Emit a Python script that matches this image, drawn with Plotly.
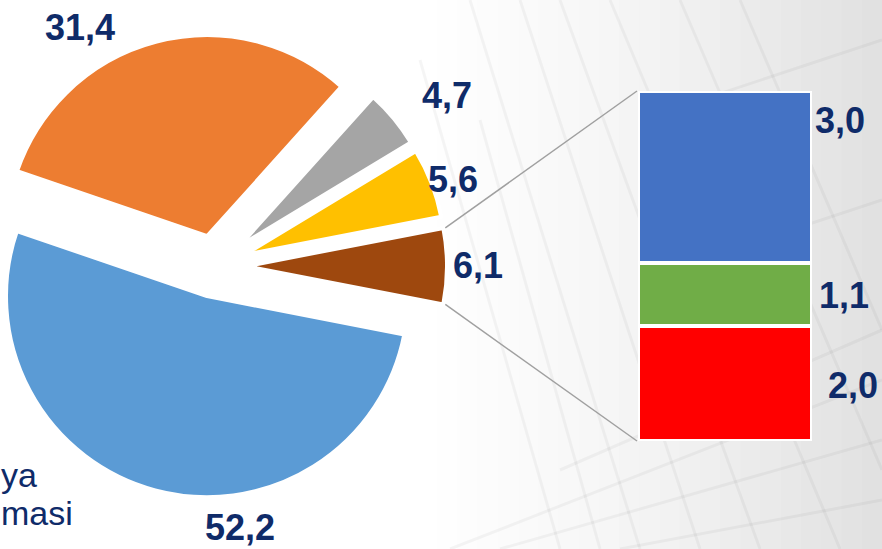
import math
import plotly.graph_objects as go

# ---------------- data ----------------
# pie slices, listed clockwise starting at the upper edge of the exploded "other" slice
pie_labels = ["Lainnya (rincian)", "Kelompok A", "Kelompok B", "Kelompok C", "Kelompok D"]
pie_values = [6.1, 52.2, 31.4, 4.7, 5.6]
pie_colors = ["#9E480E", "#5B9BD5", "#ED7D31", "#A5A5A5", "#FFC000"]

# breakdown bar of the "other" slice, bottom to top
bar_labels = ["Rincian 1", "Rincian 2", "Rincian 3"]
bar_values = [2.0, 1.1, 3.0]
bar_colors = ["#FF0000", "#70AD47", "#4472C4"]

# partial legend text visible at the left edge
legend_tail = ["ya", "masi"]

# ---------------- layout / style ----------------
W, H = 882, 549
CX, CY = 215.0, 266.2      # pie centre (px from top-left)
R = 201.0                  # pie radius (px)
PULL = 31.0                # explosion distance (px)
NAVY = "#0F2B69"
LBL_FONT = dict(family="Arial, Liberation Sans, sans-serif", size=36, color=NAVY, weight=700)

def fmt(v):
    return f"{v:.1f}".replace(".", ",")

def px_x(x):
    return x / W

def px_y(y):
    return (H - y) / H

total = sum(pie_values)
deg_per = 360.0 / total
rotation = 90.0 - pie_values[0] * deg_per / 2.0   # centre the "other" slice at 3 o'clock

fig = go.Figure()

# background: soft gradient towards the right
n_strips = 24
for i in range(n_strips):
    t = i / (n_strips - 1)
    g = int(round(255 - 30 * t ** 1.4))
    x0 = 0.45 + 0.55 * i / n_strips
    x1 = 0.45 + 0.55 * (i + 1) / n_strips
    fig.add_shape(type="rect", xref="paper", yref="paper", x0=x0, x1=x1 + 0.002,
                  y0=0, y1=1, line_width=0, fillcolor=f"rgb({g},{g},{g})", layer="below")

# faint architectural line texture in the background
texture = [
    (470, 0, 640, 549), (520, 0, 700, 549), (560, 0, 760, 549), (610, 0, 840, 549),
    (680, 0, 882, 470), (740, 0, 882, 330), (420, 60, 560, 549), (480, 120, 600, 549),
    (450, 549, 882, 380), (500, 549, 882, 440), (560, 470, 882, 330), (620, 549, 882, 500),
    (640, 120, 882, 40), (700, 260, 882, 200),
]
for x0, y0, x1, y1 in texture:
    fig.add_shape(type="line", xref="paper", yref="paper",
                  x0=px_x(x0), y0=px_y(y0), x1=px_x(x1), y1=px_y(y1),
                  line=dict(color="rgba(0,0,0,0.04)", width=3), layer="below")

# pie: one trace per slice so each slice can be exploded by the same distance
apexes = []
cum = 0.0
for k, v in enumerate(pie_values):
    start = rotation + cum * deg_per
    mid = start + v * deg_per / 2.0
    cum += v
    a = math.radians(mid)
    ax = CX + PULL * math.sin(a)
    ay = CY - PULL * math.cos(a)
    apexes.append((ax, ay, start, start + v * deg_per))
    colors = [pie_colors[i] if i == k else "rgba(0,0,0,0)" for i in range(len(pie_values))]
    widths = [4 if i == k else 0 for i in range(len(pie_values))]
    fig.add_trace(go.Pie(
        labels=pie_labels, values=pie_values, sort=False,
        direction="clockwise", rotation=rotation,
        marker=dict(colors=colors, line=dict(color="white", width=widths)),
        textinfo="none", hoverinfo="skip", showlegend=False,
        domain=dict(x=[px_x(ax - R), px_x(ax + R)], y=[px_y(ay + R), px_y(ay - R)]),
    ))

# stacked breakdown bar
BAR_X0, BAR_X1 = 638, 812
BAR_TOP, BAR_BOT = 91, 441
for lab, v, c in zip(bar_labels, bar_values, bar_colors):
    fig.add_trace(go.Bar(
        x=[0], y=[v], name=lab, marker=dict(color=c, line=dict(color="white", width=4)),
        hoverinfo="skip", showlegend=False,
    ))

# connector lines from the "other" slice to the bar
oax, oay, a0, a1 = apexes[0]
p_top = (oax + R * math.sin(math.radians(a0)), oay - R * math.cos(math.radians(a0)))
p_bot = (oax + R * math.sin(math.radians(a1)), oay - R * math.cos(math.radians(a1)))
for (sx, sy), ey in ((p_top, BAR_TOP), (p_bot, BAR_BOT)):
    fig.add_shape(type="line", xref="paper", yref="paper",
                  x0=px_x(sx + 2), y0=px_y(sy), x1=px_x(BAR_X0 - 1), y1=px_y(ey),
                  line=dict(color="#A0A0A0", width=1.5))

# value labels
pie_label_pos = [(478, 266), (240, 527), (80, 28), (447, 96), (453, 179)]
for v, (lx, ly) in zip(pie_values, pie_label_pos):
    fig.add_annotation(x=px_x(lx), y=px_y(ly), xref="paper", yref="paper",
                       text=fmt(v), showarrow=False, font=LBL_FONT,
                       xanchor="center", yanchor="middle", borderpad=0)
bar_label_pos = [(853, 385), (844, 295), (840, 120)]
for v, (lx, ly) in zip(bar_values, bar_label_pos):
    fig.add_annotation(x=px_x(lx), y=px_y(ly), xref="paper", yref="paper",
                       text=fmt(v), showarrow=False, font=LBL_FONT,
                       xanchor="center", yanchor="middle", borderpad=0)

# legend text fragments at the left edge
for txt, (lx, cy) in zip(legend_tail, [(0, 475), (0, 513)]):
    fig.add_annotation(x=px_x(lx), y=px_y(cy), xref="paper", yref="paper",
                       text=txt, showarrow=False,
                       font=dict(family="Arial, Liberation Sans, sans-serif", size=34, color=NAVY),
                       xanchor="left", yanchor="middle", borderpad=0)

fig.update_layout(
    width=W, height=H,
    margin=dict(l=0, r=0, t=0, b=0),
    paper_bgcolor="white", plot_bgcolor="rgba(0,0,0,0)",
    barmode="stack", bargap=0,
    xaxis=dict(domain=[px_x(BAR_X0), px_x(BAR_X1)], range=[-0.5, 0.5], visible=False, fixedrange=True),
    yaxis=dict(domain=[px_y(BAR_BOT), px_y(BAR_TOP)], range=[0, sum(bar_values)], visible=False, fixedrange=True),
)

fig.write_html(
    "out.html",
    config={"displayModeBar": False},
    post_script="document.body.style.margin='0';document.body.style.overflow='hidden';",
)
